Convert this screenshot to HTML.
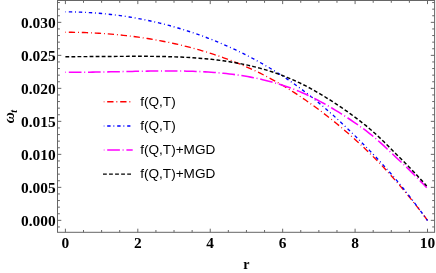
<!DOCTYPE html><html><head><meta charset="utf-8"><title>plot</title><style>html,body{margin:0;padding:0;background:#fff}svg{display:block}text{fill:#000}.tk{font-family:"Liberation Serif","DejaVu Serif",serif;font-weight:bold;font-size:15.4px}.lg{font-family:"Liberation Sans","DejaVu Sans",sans-serif;font-size:13.6px}</style></head><body>
<svg width="436" height="273" viewBox="0 0 436 273">
<rect width="436" height="273" fill="#fff"/>
<g stroke="#666" stroke-width="1" fill="none" stroke-linecap="butt">
<rect x="57.5" y="0.5" width="377.1" height="231.8"/>
<path d="M65.40,232.3v-3.6M65.40,0.5v3.6M83.51,232.3v-2.3M83.51,0.5v2.3M101.61,232.3v-2.3M101.61,0.5v2.3M119.72,232.3v-2.3M119.72,0.5v2.3M137.82,232.3v-3.6M137.82,0.5v3.6M155.93,232.3v-2.3M155.93,0.5v2.3M174.03,232.3v-2.3M174.03,0.5v2.3M192.13,232.3v-2.3M192.13,0.5v2.3M210.24,232.3v-3.6M210.24,0.5v3.6M228.34,232.3v-2.3M228.34,0.5v2.3M246.45,232.3v-2.3M246.45,0.5v2.3M264.56,232.3v-2.3M264.56,0.5v2.3M282.66,232.3v-3.6M282.66,0.5v3.6M300.76,232.3v-2.3M300.76,0.5v2.3M318.87,232.3v-2.3M318.87,0.5v2.3M336.98,232.3v-2.3M336.98,0.5v2.3M355.08,232.3v-3.6M355.08,0.5v3.6M373.19,232.3v-2.3M373.19,0.5v2.3M391.29,232.3v-2.3M391.29,0.5v2.3M409.39,232.3v-2.3M409.39,0.5v2.3M427.50,232.3v-3.6M427.50,0.5v3.6M57.5,226.95h2.4M434.6,226.95h-2.4M57.5,220.35h3.8M434.6,220.35h-3.8M57.5,213.75h2.4M434.6,213.75h-2.4M57.5,207.15h2.4M434.6,207.15h-2.4M57.5,200.55h2.4M434.6,200.55h-2.4M57.5,193.95h2.4M434.6,193.95h-2.4M57.5,187.35h3.8M434.6,187.35h-3.8M57.5,180.75h2.4M434.6,180.75h-2.4M57.5,174.15h2.4M434.6,174.15h-2.4M57.5,167.55h2.4M434.6,167.55h-2.4M57.5,160.95h2.4M434.6,160.95h-2.4M57.5,154.35h3.8M434.6,154.35h-3.8M57.5,147.75h2.4M434.6,147.75h-2.4M57.5,141.15h2.4M434.6,141.15h-2.4M57.5,134.55h2.4M434.6,134.55h-2.4M57.5,127.95h2.4M434.6,127.95h-2.4M57.5,121.35h3.8M434.6,121.35h-3.8M57.5,114.75h2.4M434.6,114.75h-2.4M57.5,108.15h2.4M434.6,108.15h-2.4M57.5,101.55h2.4M434.6,101.55h-2.4M57.5,94.95h2.4M434.6,94.95h-2.4M57.5,88.35h3.8M434.6,88.35h-3.8M57.5,81.75h2.4M434.6,81.75h-2.4M57.5,75.15h2.4M434.6,75.15h-2.4M57.5,68.55h2.4M434.6,68.55h-2.4M57.5,61.95h2.4M434.6,61.95h-2.4M57.5,55.35h3.8M434.6,55.35h-3.8M57.5,48.75h2.4M434.6,48.75h-2.4M57.5,42.15h2.4M434.6,42.15h-2.4M57.5,35.55h2.4M434.6,35.55h-2.4M57.5,28.95h2.4M434.6,28.95h-2.4M57.5,22.35h3.8M434.6,22.35h-3.8M57.5,15.75h2.4M434.6,15.75h-2.4M57.5,9.15h2.4M434.6,9.15h-2.4M57.5,2.55h2.4M434.6,2.55h-2.4"/>
</g>
<path d="M65.4,32.24 L68.4,32.24 L71.5,32.27 L74.5,32.31 L77.6,32.37 L80.6,32.44 L83.7,32.54 L86.7,32.65 L89.7,32.77 L92.8,32.92 L95.8,33.08 L98.9,33.25 L101.9,33.45 L105.0,33.66 L108.0,33.89 L111.0,34.14 L114.1,34.40 L117.1,34.68 L120.2,34.99 L123.2,35.30 L126.3,35.64 L129.3,36.00 L132.3,36.37 L135.4,36.77 L138.4,37.18 L141.5,37.62 L144.5,38.07 L147.6,38.54 L150.6,39.04 L153.6,39.55 L156.7,40.09 L159.7,40.64 L162.8,41.22 L165.8,41.82 L168.9,42.44 L171.9,43.08 L174.9,43.75 L178.0,44.44 L181.0,45.15 L184.1,45.88 L187.1,46.64 L190.2,47.43 L193.2,48.23 L196.2,49.07 L199.3,49.93 L202.3,50.81 L205.4,51.72 L208.4,52.66 L211.5,53.63 L214.5,54.62 L217.5,55.64 L220.6,56.69 L223.6,57.77 L226.7,58.88 L229.7,60.02 L232.8,61.19 L235.8,62.39 L238.8,63.63 L241.9,64.89 L244.9,66.20 L248.0,67.53 L251.0,68.90 L254.1,70.31 L257.1,71.75 L260.1,73.23 L263.2,74.75 L266.2,76.31 L269.3,77.91 L272.3,79.55 L275.4,81.23 L278.4,82.95 L281.4,84.71 L284.5,86.51 L287.5,88.36 L290.6,90.24 L293.6,92.17 L296.7,94.14 L299.7,96.15 L302.7,98.20 L305.8,100.29 L308.8,102.41 L311.9,104.58 L314.9,106.79 L318.0,109.03 L321.0,111.31 L324.0,113.63 L327.1,115.98 L330.1,118.37 L333.2,120.80 L336.2,123.27 L339.3,125.78 L342.3,128.32 L345.3,130.91 L348.4,133.53 L351.4,136.20 L354.5,138.92 L357.5,141.68 L360.6,144.49 L363.6,147.34 L366.6,150.25 L369.7,153.21 L372.7,156.22 L375.8,159.28 L378.8,162.41 L381.9,165.58 L384.9,168.82 L387.9,172.11 L391.0,175.46 L394.0,178.87 L397.1,182.34 L400.1,185.87 L403.2,189.46 L406.2,193.11 L409.2,196.82 L412.3,200.59 L415.3,204.42 L418.4,208.31 L421.4,212.26 L424.5,216.27 L427.5,220.34" fill="none" stroke="#f00" stroke-width="1.35" stroke-dasharray="0.9 2.9 6.3 2.9" stroke-dashoffset="0.4"/>
<path d="M65.4,11.89 L68.4,11.90 L71.5,11.94 L74.5,11.99 L77.6,12.07 L80.6,12.18 L83.7,12.30 L86.7,12.45 L89.7,12.62 L92.8,12.82 L95.8,13.04 L98.9,13.28 L101.9,13.54 L105.0,13.83 L108.0,14.14 L111.0,14.48 L114.1,14.84 L117.1,15.22 L120.2,15.63 L123.2,16.05 L126.3,16.51 L129.3,16.99 L132.3,17.49 L135.4,18.01 L138.4,18.56 L141.5,19.14 L144.5,19.74 L147.6,20.36 L150.6,21.01 L153.6,21.68 L156.7,22.38 L159.7,23.10 L162.8,23.85 L165.8,24.63 L168.9,25.43 L171.9,26.25 L174.9,27.11 L178.0,27.99 L181.0,28.89 L184.1,29.82 L187.1,30.78 L190.2,31.77 L193.2,32.78 L196.2,33.82 L199.3,34.89 L202.3,35.99 L205.4,37.11 L208.4,38.27 L211.5,39.45 L214.5,40.66 L217.5,41.90 L220.6,43.17 L223.6,44.47 L226.7,45.80 L229.7,47.16 L232.8,48.56 L235.8,49.98 L238.8,51.43 L241.9,52.92 L244.9,54.44 L248.0,55.99 L251.0,57.57 L254.1,59.19 L257.1,60.84 L260.1,62.52 L263.2,64.24 L266.2,66.00 L269.3,67.79 L272.3,69.61 L275.4,71.48 L278.4,73.38 L281.4,75.33 L284.5,77.31 L287.5,79.34 L290.6,81.40 L293.6,83.52 L296.7,85.68 L299.7,87.88 L302.7,90.13 L305.8,92.44 L308.8,94.79 L311.9,97.19 L314.9,99.64 L318.0,102.13 L321.0,104.68 L324.0,107.27 L327.1,109.91 L330.1,112.60 L333.2,115.32 L336.2,118.08 L339.3,120.88 L342.3,123.72 L345.3,126.58 L348.4,129.48 L351.4,132.41 L354.5,135.37 L357.5,138.35 L360.6,141.37 L363.6,144.42 L366.6,147.50 L369.7,150.62 L372.7,153.78 L375.8,156.98 L378.8,160.23 L381.9,163.53 L384.9,166.88 L387.9,170.29 L391.0,173.76 L394.0,177.29 L397.1,180.89 L400.1,184.55 L403.2,188.28 L406.2,192.08 L409.2,195.95 L412.3,199.88 L415.3,203.89 L418.4,207.97 L421.4,212.12 L424.5,216.34 L427.5,220.63" fill="none" stroke="#00f" stroke-width="1.35" stroke-dasharray="0.9 2.9 3.4 2.8" stroke-dashoffset="0.4"/>
<path d="M65.4,72.32 L68.4,72.32 L71.5,72.31 L74.5,72.30 L77.5,72.28 L80.6,72.26 L83.6,72.24 L86.7,72.21 L89.7,72.17 L92.7,72.13 L95.8,72.09 L98.8,72.05 L101.8,72.00 L104.9,71.95 L107.9,71.89 L110.9,71.84 L114.0,71.78 L117.0,71.72 L120.1,71.66 L123.1,71.59 L126.1,71.53 L129.2,71.47 L132.2,71.41 L135.2,71.35 L138.3,71.29 L141.3,71.24 L144.3,71.19 L147.4,71.14 L150.4,71.09 L153.4,71.05 L156.5,71.02 L159.5,70.99 L162.6,70.97 L165.6,70.96 L168.6,70.96 L171.7,70.96 L174.7,70.98 L177.7,71.00 L180.8,71.04 L183.8,71.09 L186.8,71.15 L189.9,71.23 L192.9,71.32 L196.0,71.43 L199.0,71.56 L202.0,71.70 L205.1,71.86 L208.1,72.04 L211.1,72.24 L214.2,72.46 L217.2,72.71 L220.2,72.98 L223.3,73.27 L226.3,73.58 L229.4,73.93 L232.4,74.29 L235.4,74.69 L238.5,75.12 L241.5,75.57 L244.5,76.06 L247.6,76.58 L250.6,77.13 L253.6,77.71 L256.7,78.33 L259.7,78.99 L262.7,79.68 L265.8,80.42 L268.8,81.19 L271.9,82.00 L274.9,82.86 L277.9,83.76 L281.0,84.70 L284.0,85.69 L287.0,86.74 L290.1,87.82 L293.1,88.96 L296.1,90.16 L299.2,91.40 L302.2,92.70 L305.3,94.05 L308.3,95.45 L311.3,96.91 L314.4,98.41 L317.4,99.97 L320.4,101.58 L323.5,103.23 L326.5,104.94 L329.5,106.68 L332.6,108.47 L335.6,110.30 L338.7,112.16 L341.7,114.07 L344.7,116.01 L347.8,117.99 L350.8,120.01 L353.8,122.07 L356.9,124.17 L359.9,126.31 L362.9,128.49 L366.0,130.71 L369.0,133.03 L372.0,135.47 L375.1,138.01 L378.1,140.65 L381.2,143.37 L384.2,146.16 L387.2,148.99 L390.3,151.85 L393.3,154.73 L396.3,157.61 L399.4,160.46 L402.4,163.31 L405.4,166.21 L408.5,169.16 L411.5,172.15 L414.6,175.19 L417.6,178.26 L420.6,181.38 L423.7,184.54 L426.7,187.73" fill="none" stroke="#f0f" stroke-width="1.55" stroke-dasharray="1.0 2.8 12.7 2.7" stroke-dashoffset="0.4"/>
<path d="M65.4,56.67 L68.4,56.66 L71.5,56.66 L74.5,56.66 L77.5,56.65 L80.6,56.64 L83.6,56.62 L86.7,56.61 L89.7,56.59 L92.7,56.57 L95.8,56.55 L98.8,56.53 L101.8,56.51 L104.9,56.49 L107.9,56.47 L110.9,56.45 L114.0,56.42 L117.0,56.40 L120.1,56.38 L123.1,56.36 L126.1,56.35 L129.2,56.34 L132.2,56.33 L135.2,56.32 L138.3,56.32 L141.3,56.32 L144.3,56.33 L147.4,56.34 L150.4,56.36 L153.4,56.39 L156.5,56.43 L159.5,56.47 L162.6,56.52 L165.6,56.59 L168.6,56.66 L171.7,56.75 L174.7,56.85 L177.7,56.96 L180.8,57.09 L183.8,57.23 L186.8,57.39 L189.9,57.56 L192.9,57.75 L196.0,57.96 L199.0,58.19 L202.0,58.43 L205.1,58.70 L208.1,58.99 L211.1,59.30 L214.2,59.64 L217.2,60.00 L220.2,60.39 L223.3,60.80 L226.3,61.24 L229.4,61.71 L232.4,62.20 L235.4,62.73 L238.5,63.29 L241.5,63.88 L244.5,64.50 L247.6,65.16 L250.6,65.85 L253.6,66.58 L256.7,67.35 L259.7,68.15 L262.7,69.00 L265.8,69.88 L268.8,70.81 L271.9,71.78 L274.9,72.80 L277.9,73.86 L281.0,74.97 L284.0,76.13 L287.0,77.34 L290.1,78.61 L293.1,79.92 L296.1,81.28 L299.2,82.70 L302.2,84.18 L305.3,85.70 L308.3,87.28 L311.3,88.90 L314.4,90.58 L317.4,92.31 L320.4,94.08 L323.5,95.90 L326.5,97.77 L329.5,99.67 L332.6,101.62 L335.6,103.61 L338.7,105.63 L341.7,107.70 L344.7,109.80 L347.8,111.94 L350.8,114.12 L353.8,116.35 L356.9,118.62 L359.9,120.93 L362.9,123.29 L366.0,125.69 L369.0,128.19 L372.0,130.79 L375.1,133.50 L378.1,136.30 L381.2,139.17 L384.2,142.10 L387.2,145.09 L390.3,148.10 L393.3,151.14 L396.3,154.18 L399.4,157.20 L402.4,160.23 L405.4,163.30 L408.5,166.42 L411.5,169.57 L414.6,172.77 L417.6,176.00 L420.6,179.27 L423.7,182.57 L426.7,185.91" fill="none" stroke="#000" stroke-width="1.45" stroke-dasharray="3.8 2.25" stroke-dashoffset="0"/>
<path d="M103.8,101.7H130.4" fill="none" stroke="#f00" stroke-width="1.35" stroke-dasharray="0.9 2.9 6.3 2.9" stroke-dashoffset="0.4"/>
<path d="M103.8,126H130.4" fill="none" stroke="#00f" stroke-width="1.35" stroke-dasharray="0.9 2.9 3.4 2.8" stroke-dashoffset="0.4"/>
<path d="M103.8,150H132.7" fill="none" stroke="#f0f" stroke-width="1.55" stroke-dasharray="1.0 2.8 12.7 2.7" stroke-dashoffset="0.4"/>
<path d="M103,174.1H131" fill="none" stroke="#000" stroke-width="1.45" stroke-dasharray="3.8 2.25" stroke-dashoffset="0"/>
<text class="lg" x="140.2" y="106.0">f(Q,T)</text>
<text class="lg" x="140.2" y="130.3">f(Q,T)</text>
<text class="lg" x="140.2" y="154.3">f(Q,T)+MGD</text>
<text class="lg" x="140.2" y="178.4">f(Q,T)+MGD</text>
<text class="tk" x="65.4" y="247.8" text-anchor="middle">0</text>
<text class="tk" x="137.8" y="247.8" text-anchor="middle">2</text>
<text class="tk" x="210.2" y="247.8" text-anchor="middle">4</text>
<text class="tk" x="282.7" y="247.8" text-anchor="middle">6</text>
<text class="tk" x="355.1" y="247.8" text-anchor="middle">8</text>
<text class="tk" x="427.5" y="247.8" text-anchor="middle">10</text>
<text class="tk" x="55.6" y="225.60" text-anchor="end">0.000</text>
<text class="tk" x="55.6" y="192.60" text-anchor="end">0.005</text>
<text class="tk" x="55.6" y="159.60" text-anchor="end">0.010</text>
<text class="tk" x="55.6" y="126.60" text-anchor="end">0.015</text>
<text class="tk" x="55.6" y="93.60" text-anchor="end">0.020</text>
<text class="tk" x="55.6" y="60.60" text-anchor="end">0.025</text>
<text class="tk" x="55.6" y="27.60" text-anchor="end">0.030</text>
<text x="246.3" y="269.0" text-anchor="middle" style="font-family:'Liberation Serif',serif;font-weight:bold;font-size:14px">r</text>
<text transform="translate(13.6,123.2) rotate(-90)" style="font-family:'Liberation Serif','DejaVu Serif',serif;font-style:italic;font-weight:bold;font-size:15.4px">ω<tspan dy="3" dx="-0.7" font-size="10px">t</tspan></text>
</svg></body></html>
